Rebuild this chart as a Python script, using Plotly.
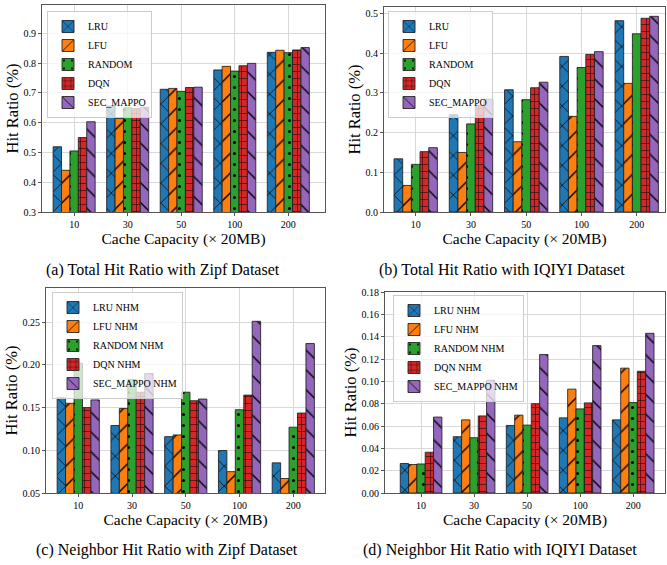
import plotly.graph_objects as go

# ---------------- data ----------------
categories = ["10", "30", "50", "100", "200"]
methods = ["LRU", "LFU", "RANDOM", "DQN", "SEC_MAPPO"]
methods_nhm = ["LRU NHM", "LFU NHM", "RANDOM NHM", "DQN NHM", "SEC_MAPPO NHM"]

# (a) Total hit ratio, Zipf
zipf_lru = [0.519, 0.656, 0.712, 0.777, 0.836]
zipf_lfu = [0.440, 0.614, 0.715, 0.789, 0.843]
zipf_random = [0.505, 0.650, 0.705, 0.773, 0.835]
zipf_dqn = [0.550, 0.647, 0.718, 0.791, 0.844]
zipf_sec = [0.603, 0.652, 0.719, 0.799, 0.852]

# (b) Total hit ratio, IQIYI
iqiyi_lru = [0.134, 0.245, 0.308, 0.392, 0.482]
iqiyi_lfu = [0.067, 0.150, 0.177, 0.241, 0.324]
iqiyi_random = [0.120, 0.222, 0.283, 0.364, 0.449]
iqiyi_dqn = [0.152, 0.269, 0.313, 0.397, 0.488]
iqiyi_sec = [0.162, 0.284, 0.327, 0.404, 0.493]

# (c) Neighbor hit ratio, Zipf
zipf_nhm_lru = [0.1615, 0.129, 0.116, 0.0997, 0.0853]
zipf_nhm_lfu = [0.155, 0.149, 0.118, 0.075, 0.067]
zipf_nhm_random = [0.202, 0.183, 0.168, 0.1475, 0.127]
zipf_nhm_dqn = [0.150, 0.168, 0.158, 0.1646, 0.1436]
zipf_nhm_sec = [0.159, 0.190, 0.160, 0.251, 0.225]

# (d) Neighbor hit ratio, IQIYI
iqiyi_nhm_lru = [0.0264, 0.0504, 0.0605, 0.0673, 0.0655]
iqiyi_nhm_lfu = [0.0255, 0.0655, 0.0697, 0.093, 0.1118]
iqiyi_nhm_random = [0.026, 0.0495, 0.0608, 0.0753, 0.081]
iqiyi_nhm_dqn = [0.0365, 0.069, 0.080, 0.0807, 0.109]
iqiyi_nhm_sec = [0.068, 0.101, 0.124, 0.132, 0.143]

captions = [
    "(a) Total Hit Ratio with Zipf Dataset",
    "(b) Total Hit Ratio with IQIYI Dataset",
    "(c) Neighbor Hit Ratio with Zipf Dataset",
    "(d) Neighbor Hit Ratio with IQIYI Dataset",
]

# ---------------- style ----------------
W, H = 667, 565
FONT = "Liberation Serif"
colors = ["#1f77b4", "#ff7f0e", "#2ca02c", "#d62728", "#9467bd"]
shapes = ["x", "/", ".", "+", "\\"]
psizes = [14, 14, 11, 7, 14]
psolid = [0.1, 0.1, 0.06, 0.14, 0.1]

x_pos = list(range(len(categories)))

panels = [
    dict(series=[zipf_lru, zipf_lfu, zipf_random, zipf_dqn, zipf_sec], names=methods,
         px=(42, 325), py=(5, 212), xr=[-0.6, 4.685], yr=[0.3, 0.995], dtick=0.1, fmt=".1f",
         leg=(47, 11)),
    dict(series=[iqiyi_lru, iqiyi_lfu, iqiyi_random, iqiyi_dqn, iqiyi_sec], names=methods,
         px=(384, 665), py=(7, 212), xr=[-0.574, 4.512], yr=[0, 0.5165], dtick=0.1, fmt=".1f",
         leg=(388, 11)),
    dict(series=[zipf_nhm_lru, zipf_nhm_lfu, zipf_nhm_random, zipf_nhm_dqn, zipf_nhm_sec], names=methods_nhm,
         px=(46, 325), py=(288, 493), xr=[-0.6, 4.59], yr=[0.05, 0.29], dtick=0.05, fmt=".2f",
         leg=(52, 292)),
    dict(series=[iqiyi_nhm_lru, iqiyi_nhm_lfu, iqiyi_nhm_random, iqiyi_nhm_dqn, iqiyi_nhm_sec], names=methods_nhm,
         px=(385, 665), py=(292, 493), xr=[-0.68, 4.6], yr=[0, 0.18], dtick=0.02, fmt=".2f",
         leg=(393, 295)),
]

fig = go.Figure()
layout = {}
for k, p in enumerate(panels):
    sfx = "" if k == 0 else str(k + 1)
    legname = "legend" if k == 0 else "legend%d" % (k + 1)
    for i, (vals, name) in enumerate(zip(p["series"], p["names"])):
        fig.add_trace(go.Bar(
            x=x_pos, y=vals, name=name,
            xaxis="x" + sfx, yaxis="y" + sfx, legend=legname,
            marker=dict(
                color=colors[i],
                line=dict(color="rgba(30,30,30,0.85)", width=1),
                pattern=dict(shape=shapes[i], fgcolor="black", fgopacity=1,
                             size=psizes[i], solidity=psolid[i]),
            ),
        ))
    x0, x1 = p["px"]
    y0, y1 = p["py"]
    layout["xaxis" + sfx] = dict(
        domain=[x0 / W, x1 / W], anchor="y" + sfx, range=p["xr"], automargin=False,
        tickvals=x_pos, ticktext=categories,
        showgrid=True, gridcolor="#d9d9d9", gridwidth=1,
        showline=True, mirror=True, linecolor="#555", linewidth=1,
        ticks="outside", ticklen=3, tickcolor="#555",
        tickfont=dict(family=FONT, size=10, color="black"),
        title=dict(text="Cache Capacity (× 20MB)", font=dict(family=FONT, size=15.5, color="black"), standoff=0),
        zeroline=False,
    )
    layout["yaxis" + sfx] = dict(
        domain=[1 - y1 / H, 1 - y0 / H], anchor="x" + sfx, range=p["yr"], automargin=False,
        dtick=p["dtick"], tick0=0, tickformat=p["fmt"],
        showgrid=True, gridcolor="#d9d9d9", gridwidth=1,
        showline=True, mirror=True, linecolor="#555", linewidth=1,
        ticks="outside", ticklen=3, tickcolor="#555",
        tickfont=dict(family=FONT, size=10, color="black"),
        title=dict(text="Hit Ratio (%)", font=dict(family=FONT, size=16.5, color="black"), standoff=0),
        zeroline=False,
    )
    lx, ly = p["leg"]
    layout[legname] = dict(
        x=lx / W, y=1 - ly / H, xanchor="left", yanchor="top",
        bgcolor="rgba(255,255,255,0.75)", bordercolor="#cccccc", borderwidth=1,
        font=dict(family=FONT, size=10, color="black"),
        tracegroupgap=0, itemwidth=30,
    )

fig.update_layout(**layout)

cap_pos = [(163, 270), (502, 270), (167, 550), (500, 550)]
for text, (cx, cy) in zip(captions, cap_pos):
    fig.add_annotation(text=text, x=cx / W, y=1 - cy / H, xref="paper", yref="paper",
                       showarrow=False, xanchor="center", yanchor="middle",
                       font=dict(family=FONT, size=16, color="black"))

fig.update_layout(
    width=W, height=H, margin=dict(l=0, r=0, t=0, b=0),
    paper_bgcolor="white", plot_bgcolor="white",
    barmode="group", bargap=0.215, bargroupgap=0,
    font=dict(family=FONT, color="black"),
)

fig.write_html("out.html", config={"displayModeBar": False},
               post_script="document.body.style.margin='0';")
